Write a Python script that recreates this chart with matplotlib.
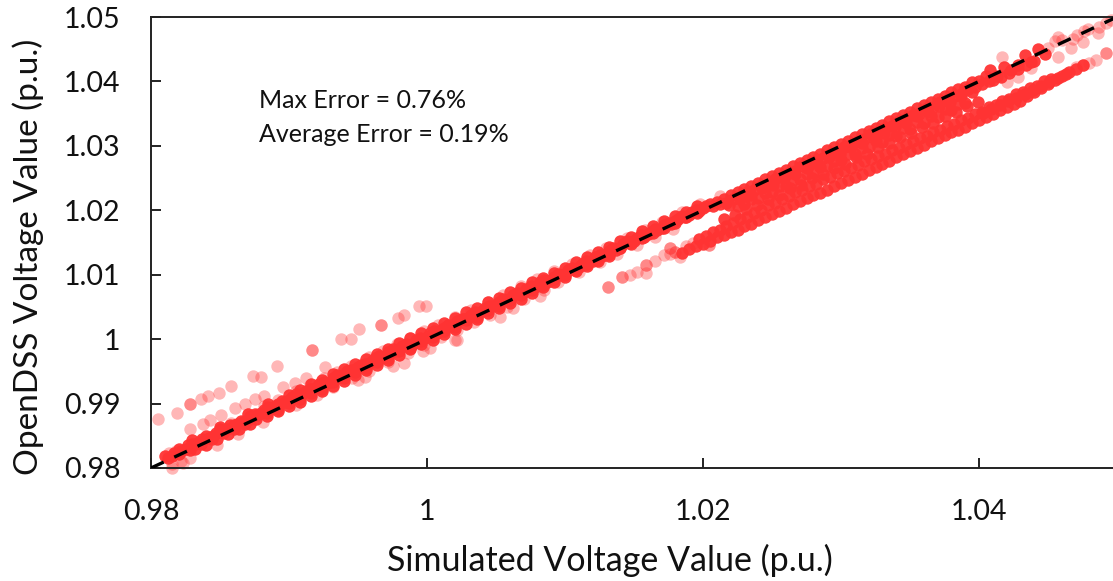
import matplotlib
matplotlib.use('Agg')
import matplotlib.pyplot as plt

plt.rcParams['font.family'] = ['Lato', 'DejaVu Sans']

# values
upper_x = [.9810,.9815,.9820,.9825,.9830,.9835,.9840,.9845,.9850,.9855,
           .9860,.9865,.9870,.9875,.9880,.9885,.9890,.9895,.9900,.9905,
           .9910,.9915,.9920,.9925,.9930,.9935,.9940,.9945,.9950,.9955,
           .9960,.9965,.9970,.9975,.9980,.9985,.9990,.9995,1.0000,1.0005,
           1.0010,1.0015,1.0020,1.0025,1.0030,1.0035,1.0040,1.0045,1.0050,1.0055,
           1.0060,1.0065,1.0070,1.0075,1.0080,1.0085,1.0090,1.0095,1.0100,1.0105,
           1.0110,1.0115,1.0120,1.0125,1.0130,1.0135,1.0140,1.0145,1.0150,1.0155,
           1.0160,1.0165,1.0170,1.0175,1.0180,1.0185,1.0190,1.0195,1.0200,1.0205,
           1.0210,1.0215,1.0220,1.0225,1.0230,1.0235,1.0240,1.0245,1.0250,1.0255,
           1.0260,1.0265,1.0270,1.0275,1.0280,1.0285,1.0290,1.0295,1.0300,1.0305,
           1.0310,1.0315,1.0320,1.0325,1.0330,1.0335,1.0340,1.0345,1.0350,1.0355,
           1.0360,1.0365,1.0370,1.0375,1.0380,1.0385,1.0390,1.0395,1.0400,1.0405]
upper_y = [.9818,.9819,.9829,.9829,.9838,.9840,.9850,.9850,.9861,.9861,
           .9866,.9873,.9875,.9884,.9885,.9895,.9896,.9904,.9905,.9915,
           .9916,.9923,.9925,.9934,.9933,.9944,.9945,.9952,.9957,.9962,
           .9966,.9974,.9974,.9984,.9983,.9993,.9993,1.0002,1.0003,1.0012,
           1.0014,1.0022,1.0024,1.0032,1.0033,1.0042,1.0043,1.0052,1.0053,1.0062,
           1.0063,1.0072,1.0073,1.0082,1.0083,1.0092,1.0092,1.0101,1.0101,1.0111,
           1.0112,1.0121,1.0122,1.0131,1.0132,1.0141,1.0142,1.0152,1.0152,1.0162,
           1.0163,1.0171,1.0173,1.0181,1.0183,1.0191,1.0193,1.0201,1.0203,1.0209,
           1.0213,1.0218,1.0223,1.0228,1.0233,1.0238,1.0243,1.0248,1.0253,1.0258,
           1.0263,1.0268,1.0273,1.0278,1.0283,1.0288,1.0293,1.0298,1.0303,1.0308,
           1.0313,1.0318,1.0323,1.0328,1.0333,1.0338,1.0343,1.0348,1.0353,1.0358,
           1.0363,1.0368,1.0373,1.0378,1.0383,1.0389,1.0392,1.0399,1.0401,1.0408]

center_x = [.9812,.9817,.9822,.9827,.9832,.9837,.9842,.9847,.9852,.9857,
            .9862,.9867,.9872,.9877,.9882,.9887,.9892,.9897,.9902,.9907,
            .9912,.9917,.9922,.9927,.9932,.9937,.9942,.9947,.9952,.9957,
            .9962,.9967,.9972,.9977,.9982,.9987,.9992,.9997,1.0002,1.0007,
            1.0012,1.0017,1.0022,1.0027,1.0032,1.0037,1.0042,1.0047,1.0052,1.0057,
            1.0062,1.0067,1.0072,1.0077,1.0082,1.0087,1.0092,1.0097,1.0102,1.0107,
            1.0112,1.0117,1.0122,1.0127,1.0132,1.0137,1.0142,1.0147,1.0152,1.0157,
            1.0162,1.0167,1.0172,1.0177,1.0182,1.0187,1.0192,1.0197,1.0202,1.0207,
            1.0212,1.0217,1.0222,1.0227,1.0232,1.0237,1.0242,1.0247,1.0252,1.0257,
            1.0262,1.0267,1.0272,1.0277,1.0282,1.0287,1.0292,1.0297,1.0302,1.0307,
            1.0312,1.0317,1.0322,1.0327,1.0332,1.0337,1.0342,1.0347,1.0352,1.0357,
            1.0362,1.0367,1.0372,1.0377,1.0382,1.0387,1.0392,1.0397,1.0402,1.0407]
center_y = [.9815,.9824,.9826,.9835,.9837,.9845,.9846,.9855,.9857,.9866,
            .9869,.9872,.9880,.9882,.9890,.9892,.9900,.9902,.9910,.9912,
            .9920,.9922,.9930,.9932,.9940,.9941,.9950,.9952,.9960,.9961,
            .9970,.9971,.9980,.9981,.9989,.9990,.9999,1.0000,1.0009,1.0010,
            1.0018,1.0021,1.0028,1.0031,1.0038,1.0041,1.0048,1.0051,1.0058,1.0060,
            1.0068,1.0070,1.0078,1.0079,1.0088,1.0089,1.0097,1.0099,1.0107,1.0108,
            1.0117,1.0119,1.0127,1.0129,1.0137,1.0139,1.0147,1.0149,1.0157,1.0159,
            1.0167,1.0169,1.0177,1.0179,1.0187,1.0189,1.0197,1.0199,1.0207,1.0206,
            1.0210,1.0212,1.0218,1.0221,1.0228,1.0231,1.0238,1.0241,1.0248,1.0251,
            1.0258,1.0261,1.0268,1.0271,1.0278,1.0281,1.0288,1.0291,1.0298,1.0301,
            1.0308,1.0311,1.0318,1.0321,1.0328,1.0331,1.0338,1.0341,1.0348,1.0351,
            1.0358,1.0361,1.0368,1.0371,1.0378,1.0381,1.0388,1.0391,1.0396,1.0401]

core_x = [.9820,.9828,.9836,.9844,.9852,.9860,.9868,.9876,.9884,.9892,.9900,.9908,
          .9916,.9924,.9932,.9940,.9948,.9956,.9964,.9972,.9980,.9988,.9996,1.0004,
          1.0012,1.0020,1.0028,1.0036,1.0044,1.0052,1.0060,1.0068,1.0076,1.0084,1.0092,1.0100,
          1.0108,1.0116,1.0124,1.0132,1.0140,1.0148,1.0156,1.0164,1.0172,1.0180,1.0188,1.0196]
core_y = [.9821,.9828,.9838,.9845,.9854,.9861,.9869,.9876,.9885,.9891,.9901,.9907,
          .9917,.9923,.9933,.9939,.9949,.9955,.9965,.9971,.9981,.9987,.9997,1.0003,
          1.0013,1.0019,1.0029,1.0035,1.0045,1.0051,1.0061,1.0068,1.0077,1.0084,1.0093,1.0100,
          1.0109,1.0116,1.0125,1.0132,1.0141,1.0148,1.0157,1.0164,1.0173,1.0180,1.0189,1.0196]

above_x = [.9830,.9850,.9870,.9885,.9900,.9908,.9916,.9924,.9932,.9940,.9948,.9956,.9964,.9972,
           .9980,.9988,.9996,1.0004,1.0012,1.0020,1.0028,1.0036,1.0044,1.0052,1.0060,1.0068,
           1.0076,1.0084,1.0092,1.0100,1.0108,1.0116,1.0124,1.0132,1.0140,1.0148,1.0156,1.0164,
           1.0172,1.0180,1.0188,1.0196]
above_y = [.9843,.9864,.9884,.9899,.9914,.9921,.9930,.9937,.9946,.9953,.9962,.9969,.9977,.9985,
           .9994,1.0001,1.0010,1.0017,1.0025,1.0033,1.0042,1.0049,1.0057,1.0064,1.0073,1.0080,
           1.0088,1.0095,1.0103,1.0111,1.0119,1.0127,1.0136,1.0143,1.0152,1.0159,1.0168,1.0175,
           1.0183,1.0191,1.0198,1.0206]

below_x = [.9832,.9840,.9848,.9856,.9864,.9872,.9884,.9892,.9900,.9908,.9916,.9924,.9932,.9940,
           .9948,.9956,.9964,.9972,.9980,.9988,.9996,1.0004,1.0012,1.0020,1.0028,1.0036,1.0044,
           1.0052,1.0060,1.0068,1.0076,1.0084,1.0092,1.0100,1.0108,1.0116,1.0124,1.0132]
below_y = [.9829,.9836,.9845,.9852,.9860,.9868,.9880,.9888,.9896,.9903,.9912,.9920,.9928,.9935,
           .9944,.9952,.9960,.9967,.9976,.9984,.9992,.9999,1.0008,1.0016,1.0024,1.0031,1.0040,
           1.0048,1.0056,1.0063,1.0072,1.0081,1.0089,1.0097,1.0105,1.0113,1.0121,1.0129]

top_x = [1.0408,1.0413,1.0418,1.0423,1.0428,1.0433,1.0438,1.0443,1.0448,
         1.0410,1.0416,1.0422,1.0428,1.0434,1.0440]
top_y = [1.0417,1.0408,1.0423,1.0418,1.0425,1.0441,1.0430,1.0450,1.0443,
         1.0402,1.0407,1.0413,1.0419,1.0425,1.0431]

lowtop_x = [1.0403,1.0409,1.0415,1.0421,1.0427,1.0433,1.0439,1.0445,1.0451,1.0457,1.0463]
lowtop_y = [1.0351,1.0357,1.0363,1.0369,1.0375,1.0381,1.0387,1.0393,1.0399,1.0405,1.0411]

fill_x = [1.0225,1.0230,1.0235,1.0240,1.0245,1.0250,
          1.0255,1.0260,1.0265,1.0270,1.0275,1.0280,1.0285,1.0290,1.0295,1.0300,
          1.0305,1.0310,1.0315,1.0320,1.0325,1.0330,1.0335,1.0340,1.0345,1.0350,
          1.0355,1.0360,1.0365,1.0370,1.0375,1.0380,1.0385,1.0390]
fill_y = [1.0207,1.0209,1.0217,1.0219,1.0227,1.0229,
          1.0237,1.0238,1.0247,1.0248,1.0257,1.0258,1.0267,1.0268,1.0277,1.0278,
          1.0287,1.0288,1.0297,1.0298,1.0307,1.0306,1.0317,1.0316,1.0327,1.0326,
          1.0337,1.0336,1.0347,1.0345,1.0357,1.0355,1.0365,1.0367]

mid1_x = [1.0219,1.0227,1.0235,1.0243,1.0251,1.0259,1.0267,1.0275,1.0283,1.0291,1.0299,
          1.0307,1.0315,1.0323,1.0331,1.0339,1.0347,1.0355,1.0363,1.0371,1.0379,1.0387,1.0395]
mid1_y = [1.0208,1.0218,1.0224,1.0234,1.0240,1.0250,1.0256,1.0266,1.0272,1.0282,1.0288,
          1.0298,1.0304,1.0314,1.0320,1.0330,1.0336,1.0346,1.0352,1.0362,1.0368,1.0377,1.0384]

mid2_x = [1.0215,1.0223,1.0231,1.0239,1.0247,1.0255,1.0263,1.0271,1.0279,1.0287,1.0295,1.0303,
          1.0311,1.0319,1.0327,1.0335,1.0343,1.0351,1.0359,1.0367,1.0375,1.0383,1.0391,1.0399]
mid2_y = [1.0186,1.0192,1.0202,1.0208,1.0218,1.0224,1.0234,1.0240,1.0250,1.0256,1.0266,1.0272,
          1.0282,1.0288,1.0298,1.0304,1.0314,1.0320,1.0330,1.0336,1.0346,1.0352,1.0362,1.0368]

lower_x = [1.0185,1.0190,1.0195,1.0200,1.0205,1.0210,1.0215,1.0220,1.0225,1.0230,
           1.0235,1.0240,1.0245,1.0250,1.0255,1.0260,1.0265,1.0270,1.0275,1.0280,
           1.0285,1.0290,1.0295,1.0300,1.0305,1.0310,1.0315,1.0320,1.0325,1.0330,
           1.0335,1.0340,1.0345,1.0350,1.0355,1.0360,1.0365,1.0370,1.0375,1.0380,
           1.0385,1.0390,1.0395,1.0400,1.0405,1.0410,1.0415,1.0420,1.0425,1.0430,
           1.0435,1.0440,1.0445,1.0450,1.0455,1.0460,1.0465,1.0470,1.0475]
lower_y = [1.0133,1.0140,1.0144,1.0148,1.0153,1.0158,1.0162,1.0166,1.0170,1.0175,
           1.0179,1.0185,1.0189,1.0195,1.0199,1.0204,1.0209,1.0214,1.0219,1.0224,
           1.0227,1.0232,1.0237,1.0242,1.0247,1.0252,1.0257,1.0262,1.0267,1.0272,
           1.0277,1.0282,1.0287,1.0292,1.0297,1.0302,1.0307,1.0312,1.0317,1.0322,
           1.0325,1.0330,1.0335,1.0340,1.0345,1.0350,1.0355,1.0360,1.0365,1.0370,
           1.0378,1.0384,1.0390,1.0396,1.0402,1.0408,1.0414,1.0420,1.0426]

branch_x = [1.0197,1.0202,1.0207,1.0212,1.0217,1.0222,1.0227,1.0232,1.0237,1.0242,
            1.0247,1.0252,1.0257,1.0262,1.0267,1.0272,1.0277,1.0282,1.0287,1.0292,
            1.0297,1.0302,1.0307,1.0312,1.0317,1.0322,1.0327,1.0332,1.0337,1.0342,
            1.0347,1.0352,1.0357,1.0362,1.0367,1.0372,1.0377,1.0382,1.0387,1.0392,
            1.0397,1.0402,1.0407,1.0412,1.0417,1.0422,1.0427,1.0432,1.0437,1.0442,
            1.0447,1.0452]
branch_y = [1.0156,1.0160,1.0166,1.0170,1.0176,1.0180,1.0186,1.0190,1.0196,1.0200,
            1.0208,1.0212,1.0218,1.0222,1.0228,1.0232,1.0238,1.0241,1.0248,1.0251,
            1.0258,1.0261,1.0266,1.0270,1.0276,1.0279,1.0285,1.0288,1.0294,1.0297,
            1.0303,1.0307,1.0312,1.0316,1.0322,1.0325,1.0331,1.0334,1.0340,1.0343,
            1.0350,1.0353,1.0360,1.0363,1.0370,1.0373,1.0380,1.0383,1.0390,1.0393,
            1.0400,1.0404]

# faint edges of the band, start of the lower branch, loose points
edge_x = [.9858,.9870,.9882,.9892,.9905,.9915,.9925,.9935,.9945,.9958,.9968,.9978,.9988,
          .9998,1.0008,1.0020,1.0032,1.0044,1.0055,1.0068,1.0080,1.0092,1.0105,1.0118,1.0130,
          1.0145,1.0158,1.0170,1.0185,1.0198,1.0212,
          .9905,.9920,.9932,.9946,.9958,.9972,.9986,.9998,1.0010,1.0022,1.0034,1.0046,1.0058,
          1.0070,1.0085,1.0095,1.0110,1.0125,1.0138,1.0152,1.0165,1.0178]
edge_y = [.9870,.9884,.9896,.9906,.9919,.9929,.9939,.9949,.9959,.9972,.9982,.9992,1.0002,
          1.0012,1.0022,1.0034,1.0046,1.0058,1.0069,1.0082,1.0094,1.0105,1.0117,1.0130,1.0142,
          1.0157,1.0170,1.0182,1.0197,1.0209,1.0222,
          .9898,.9913,.9925,.9939,.9951,.9965,.9979,.9991,1.0003,1.0014,1.0026,1.0038,1.0050,
          1.0062,1.0077,1.0088,1.0104,1.0119,1.0132,1.0146,1.0159,1.0171]

tail_x = [1.0131,1.0131,1.0141,1.0141,1.0147,1.0152,1.0159,1.0159,1.0159,1.0165,1.0172,1.0176,1.0176,1.0180,1.0180,
          1.0176,1.0183,1.0188,1.0193,1.0204,1.0204]
tail_y = [1.0081,1.0081,1.0096,1.0096,1.0100,1.0104,1.0115,1.0115,1.0103,1.0122,1.0130,1.0141,1.0141,1.0135,1.0135,
          1.0132,1.0128,1.0145,1.0150,1.0146,1.0146]

stray_x = [.9805,.9819,.9828,.9828,.9836,.9841,.9849,.9858,.9874,.9880,.9891,.9917,.9917,
           .9938,.9945,.9951,.9967,.9967,.9979,.9983,.9994,.9999,
           .9828,.9838,.9843,.9851,.9861,.9868,.9875,.9882,.9896,.9904,.9912,.9926,
           .9815,.9823,.9848,.9863,.9881,.9892,.9950,.9955,.9975,.9983,.9997,1.0002,1.0020,
           1.0022,1.0053,1.0062,1.0082,
           .9813,.9818,.9822,.9815,.9822,.9828,
           1.0492,1.0486,1.0479,1.0475,1.0471,1.0467,1.0457,1.0457,1.0438,1.0428,1.0417,1.0420,
           1.0450,1.0455,1.0460,1.0468,1.0476,1.0487,1.0496,
           1.0470,1.0475,1.0480,1.0485,1.0492,1.0492]
stray_y = [.9876,.9885,.9899,.9899,.9907,.9912,.9916,.9927,.9943,.9941,.9958,.9983,.9983,
           1.0000,1.0000,1.0016,1.0022,1.0022,1.0033,1.0037,1.0051,1.0051,
           .9861,.9868,.9875,.9882,.9893,.9899,.9907,.9912,.9926,.9932,.9940,.9957,
           .9800,.9808,.9836,.9853,.9871,.9890,.9937,.9941,.9958,.9963,.9982,.9986,.9999,
           .9999,1.0034,1.0048,1.0067,
           .9824,.9827,.9826,.9806,.9811,.9815,
           1.0491,1.0475,1.0481,1.0461,1.0472,1.0452,1.0469,1.0438,1.0421,1.0407,1.0438,1.0399,
           1.0452,1.0462,1.0464,1.0466,1.0478,1.0485,1.0496,
           1.0422,1.0426,1.0428,1.0434,1.0444,1.0444]

ref_line = [0.98, 1.05]
x_ticks = [0.98, 1, 1.02, 1.04]
x_labels = ['0.98', '1', '1.02', '1.04']
y_ticks = [0.98, 0.99, 1, 1.01, 1.02, 1.03, 1.04, 1.05]
y_labels = ['0.98', '0.99', '1', '1.01', '1.02', '1.03', '1.04', '1.05']

W, H = 1113, 581
fig = plt.figure(figsize=(W/100, H/100), dpi=100)
# the right edge of the plot sits just past the edge of the picture
ax = fig.add_axes([151/W, (H-468)/H, 966/W, 451/H])

for xs, ys in [(edge_x, edge_y), (tail_x, tail_y), (stray_x, stray_y)]:
    ax.scatter(xs, ys, s=80, color='#ff3333', alpha=0.35, linewidths=0, clip_on=False, zorder=2)
for xs, ys in [(upper_x, upper_y), (center_x, center_y), (core_x, core_y), (above_x, above_y),
               (below_x, below_y), (top_x, top_y), (lowtop_x, lowtop_y), (fill_x, fill_y),
               (mid1_x, mid1_y), (mid2_x, mid2_y), (lower_x, lower_y), (branch_x, branch_y)]:
    ax.scatter(xs, ys, s=80, color='#ff3333', alpha=0.95, linewidths=0, clip_on=False, zorder=2)

ax.plot(ref_line, ref_line, color='black', lw=2.4, linestyle=(0, (4.2, 3.5)), zorder=3)

ax.set_xlim(0.98, 1.05)
ax.set_ylim(0.98, 1.05)
ax.set_xticks(x_ticks, x_labels)
ax.set_yticks(y_ticks, y_labels)
ax.tick_params(direction='in', length=7, width=1.4, color='#222222', labelsize=20.5, labelcolor='#111111')
ax.tick_params(axis='x', pad=22)
ax.tick_params(axis='y', pad=22)
for s in ax.spines.values():
    s.set_linewidth(1.4)
    s.set_color('#222222')

fig.text(610/W, 1-560/H, 'Simulated Voltage Value (p.u.)', fontsize=24.5, ha='center', va='center', color='#111111')
fig.text(28/W, 1-257/H, 'OpenDSS Voltage Value (p.u.)', fontsize=24, rotation=90, ha='center', va='center', color='#111111')
fig.text(259/W, 1-100/H, 'Max Error = 0.76%', fontsize=18, ha='left', va='center', color='#111111')
fig.text(259/W, 1-134/H, 'Average Error = 0.19%', fontsize=18, ha='left', va='center', color='#111111')

fig.savefig('out.png', dpi=100)
